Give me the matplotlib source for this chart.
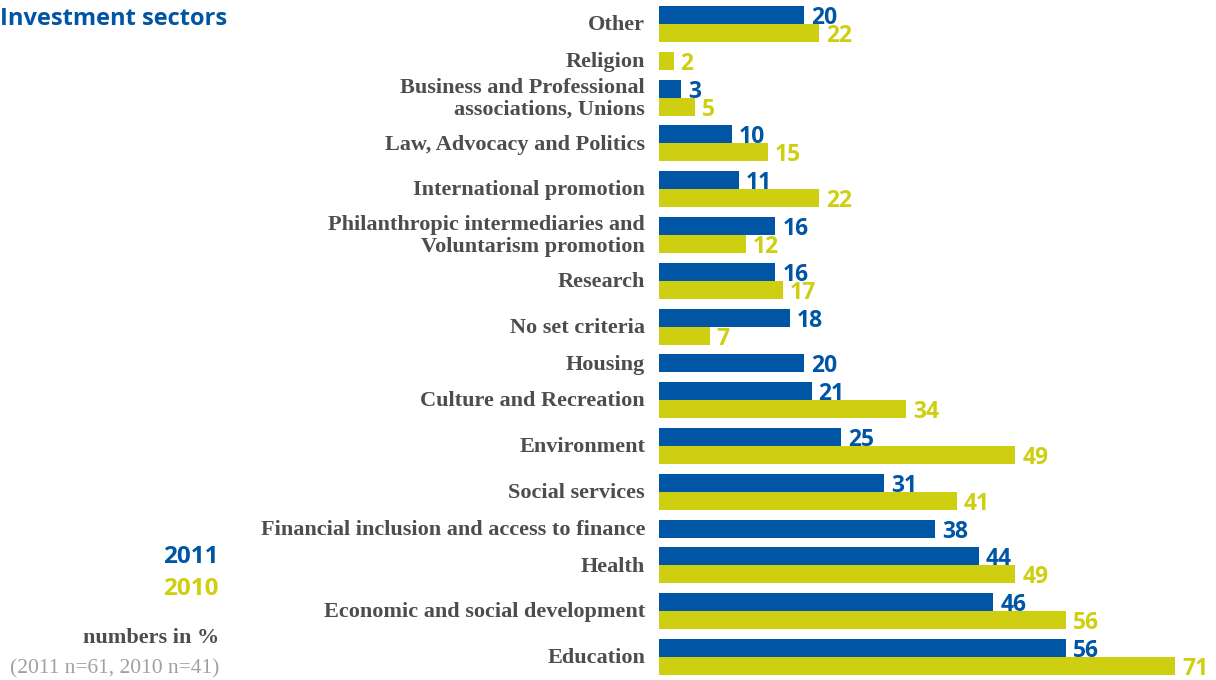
import matplotlib.pyplot as plt

# ---- Datos: sectores de inversión (porcentaje de respuestas) ----
categories = [
    "Other",
    "Religion",
    "Business and Professional\nassociations, Unions",
    "Law, Advocacy and Politics",
    "International promotion",
    "Philanthropic intermediaries and\nVoluntarism promotion",
    "Research",
    "No set criteria",
    "Housing",
    "Culture and Recreation",
    "Environment",
    "Social services",
    "Financial inclusion and access to finance",
    "Health",
    "Economic and social development",
    "Education",
]
share_2011 = [20, None, 3, 10, 11, 16, 16, 18, 20, 21, 25, 31, 38, 44, 46, 56]
share_2010 = [22, 2, 5, 15, 22, 12, 17, 7, None, 34, 49, 41, None, 49, 56, 71]
years = ["2011", "2010"]

BLUE = "#0055a4"
YELLOW = "#cfcf12"
GREY = "#4d4d4d"
LIGHT = "#a0a0a0"

SERIF = "Liberation Serif"
SANS = "Open Sans"

W, H = 1216, 680
fig = plt.figure(figsize=(W / 100, H / 100), dpi=100)

# eje en píxeles: barras desde x=659, filas entre y=6 y y=675
x0, y_top, y_bot = 659, 6, 675
ax = fig.add_axes([x0 / W, 1 - y_bot / H, (W - x0) / W, (y_bot - y_top) / H])
ax.axis("off")

# ---- Apilado vertical: cada grupo ocupa 1 o 2 barras contiguas ----
bar_h = 1.0
gap = 0.545
y = 0.0
for cat, v11, v10 in zip(categories, share_2011, share_2010):
    series = [(v, c) for v, c in ((v11, BLUE), (v10, YELLOW)) if v is not None]
    start = y
    for v, c in series:
        yc = y + bar_h / 2
        ax.barh(yc, v, height=bar_h, color=c, linewidth=0)
        ax.annotate(str(v), xy=(v, yc), xytext=(5, 0), textcoords="offset points",
                    ha="left", va="center_baseline", color=c, fontsize=16.5,
                    fontfamily=SANS, fontweight="bold")
        y += bar_h
    center = (start + y) / 2
    ax.annotate(cat, xy=(0, center), xytext=(-10, -0.8), textcoords="offset points",
                ha="right", va="center", color=GREY, fontsize=16,
                fontfamily=SERIF, fontweight="bold", linespacing=1.1)
    y += gap

ax.set_ylim(y - gap, 0)
ax.set_xlim(0, (W - x0) / 7.27)

# ---- Título y leyenda textual a la izquierda ----
fig.text(0, 1 - 25 / H, "Investment sectors", ha="left", va="baseline",
         color=BLUE, fontsize=17, fontfamily=SANS, fontweight="bold")
fig.text(219 / W, 1 - 563 / H, years[0], ha="right", va="baseline",
         color=BLUE, fontsize=17.5, fontfamily=SANS, fontweight="bold")
fig.text(219 / W, 1 - 595 / H, years[1], ha="right", va="baseline",
         color=YELLOW, fontsize=17.5, fontfamily=SANS, fontweight="bold")
fig.text(219 / W, 1 - 643 / H, "numbers in %", ha="right", va="baseline",
         color=GREY, fontsize=16, fontfamily=SERIF, fontweight="bold")
fig.text(219 / W, 1 - 673 / H, "(2011 n=61, 2010 n=41)", ha="right", va="baseline",
         color=LIGHT, fontsize=15.5, fontfamily=SERIF)

fig.savefig("out.png", dpi=100)
